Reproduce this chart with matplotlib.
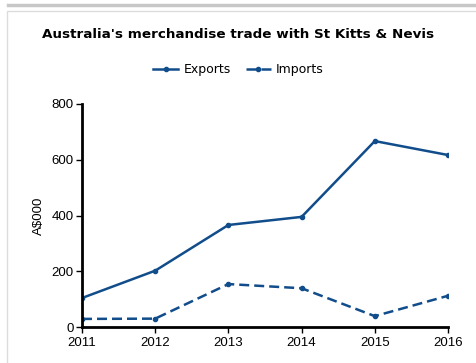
import matplotlib
matplotlib.use("Agg")
import matplotlib.pyplot as plt
from matplotlib.patches import Rectangle
from matplotlib.lines import Line2D

years = [2011, 2012, 2013, 2014, 2015, 2016]
exports = [104, 202, 366, 395, 667, 617]
imports = [29, 30, 154, 139, 39, 112]
yticks = [0, 200, 400, 600, 800]

blue = "#114d8b"

fig = plt.figure(figsize=(4.77, 3.63), dpi=100)
ax = fig.add_axes([82/477, 1-327/363, (448-82)/477, (327-104)/363])

# frame bits round the chart
fig.add_artist(Line2D([8/477, 1], [1-5/363, 1-5/363], color="#c8c8c8", lw=2.5))
fig.add_artist(Rectangle((7/477, -0.1), 1.1, 1-11/363+0.1, fill=False, ec="#dcdcdc", lw=1))

ax.plot(years, exports, color=blue, lw=1.8, marker="o", ms=3, label="Exports")
ax.plot(years, imports, color=blue, lw=1.8, ls=(0, (4, 2)), marker="o", ms=3, label="Imports")

ax.set_xlim(2011, 2016)
ax.set_ylim(0, 800)
ax.set_xticks(years)
ax.set_yticks(yticks)
for s in ["top", "right"]:
    ax.spines[s].set_visible(False)
for s in ["left", "bottom"]:
    ax.spines[s].set_linewidth(2)
ax.tick_params(direction="out", length=4, width=1, labelsize=9.5)
ax.tick_params(axis="x", pad=3)
ax.tick_params(axis="y", pad=2)
for lab in ax.get_xticklabels() + ax.get_yticklabels():
    lab.set_family("Liberation Sans")
ax.set_ylabel("A$000", fontsize=9.5, family="Liberation Sans", labelpad=5)

fig.text(0.5, 1-34/363, "Australia's merchandise trade with St Kitts & Nevis",
         ha="center", va="center", fontsize=9.7, fontweight="bold")
fig.legend(loc="center", bbox_to_anchor=(0.5, 1-70/363), ncol=2, frameon=False,
           fontsize=9, handlelength=2.0, columnspacing=1.2, handletextpad=0.4)

fig.savefig("out.png", dpi=100)
